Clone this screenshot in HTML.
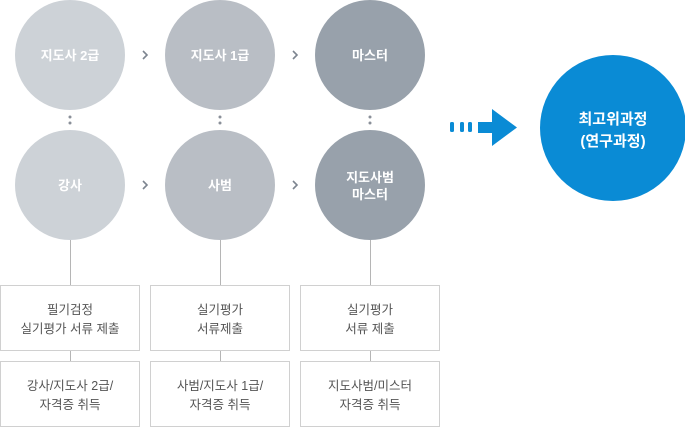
<!DOCTYPE html>
<html><head><meta charset="utf-8"><style>
body{margin:0;width:685px;height:427px;background:#fff;overflow:hidden;font-family:"Liberation Sans","Noto Sans CJK KR",sans-serif;}
</style></head><body>
<svg width="685" height="427" xmlns="http://www.w3.org/2000/svg" font-family="Liberation Sans, Noto Sans CJK KR, sans-serif">
<g stroke="#b5b5b5" stroke-width="1">
<line x1="70.5" y1="240" x2="70.5" y2="285"/><line x1="220.5" y1="240" x2="220.5" y2="285"/><line x1="370.5" y1="240" x2="370.5" y2="285"/>
<line x1="70.5" y1="350" x2="70.5" y2="361"/><line x1="220.5" y1="350" x2="220.5" y2="361"/><line x1="370.5" y1="350" x2="370.5" y2="361"/>
</g>
<circle cx="70" cy="55" r="55" fill="#cdd2d7"/><circle cx="220" cy="55" r="55" fill="#b9bec5"/><circle cx="370" cy="55" r="55" fill="#98a1ab"/>
<circle cx="70" cy="185" r="55" fill="#cdd2d7"/><circle cx="220" cy="185" r="55" fill="#b9bec5"/><circle cx="370" cy="185" r="55" fill="#98a1ab"/>
<g fill="#8a9099"><circle cx="70" cy="117" r="1.5"/><circle cx="70" cy="123" r="1.5"/><circle cx="220" cy="117" r="1.5"/><circle cx="220" cy="123" r="1.5"/><circle cx="370" cy="117" r="1.5"/><circle cx="370" cy="123" r="1.5"/></g>
<g fill="none" stroke="#7d8590" stroke-width="1.6"><path d="M143 51l4 4-4 4M293 51l4 4-4 4M143 181l4 4-4 4M293 181l4 4-4 4"/></g>
<g fill="#fff" font-size="13" font-weight="bold" text-anchor="middle">
<text x="70" y="60">지도사 2급</text><text x="220" y="60">지도사 1급</text><text x="370" y="60">마스터</text>
<text x="70" y="190">강사</text><text x="220" y="190">사범</text><text x="370" y="182">지도사범</text><text x="370" y="199">마스터</text>
</g>
<g fill="#0a8bd5"><rect x="450" y="122" width="4" height="10" rx="1.5"/><rect x="460" y="122" width="4" height="10" rx="1.5"/><rect x="468" y="122" width="4" height="10" rx="1.5"/>
<path d="M478 122H492V109L517 127.5L492 146V133H478Z"/></g>
<circle cx="613" cy="128" r="73" fill="#0a8bd5"/>
<g fill="#fff" font-size="15" font-weight="bold" text-anchor="middle"><text x="613" y="124">최고위과정</text><text x="613" y="146">(연구과정)</text></g>
<g fill="#fff" stroke="#d0d0d0"><rect x="0.5" y="285.5" width="139" height="65"/><rect x="150.5" y="285.5" width="139" height="65"/><rect x="300.5" y="285.5" width="139" height="65"/>
<rect x="0.5" y="361.5" width="139" height="65"/><rect x="150.5" y="361.5" width="139" height="65"/><rect x="300.5" y="361.5" width="139" height="65"/></g>
<g fill="#555" font-size="12.5" text-anchor="middle">
<text x="70" y="314">필기검정</text><text x="70" y="333">실기평가 서류 제출</text>
<text x="220" y="314">실기평가</text><text x="220" y="333">서류제출</text>
<text x="370" y="314">실기평가</text><text x="370" y="333">서류 제출</text>
<text x="70" y="390">강사/지도사 2급/</text><text x="70" y="409">자격증 취득</text>
<text x="220" y="390">사범/지도사 1급/</text><text x="220" y="409">자격증 취득</text>
<text x="370" y="390">지도사범/미스터</text><text x="370" y="409">자격증 취득</text>
</g>
</svg>
</body></html>
